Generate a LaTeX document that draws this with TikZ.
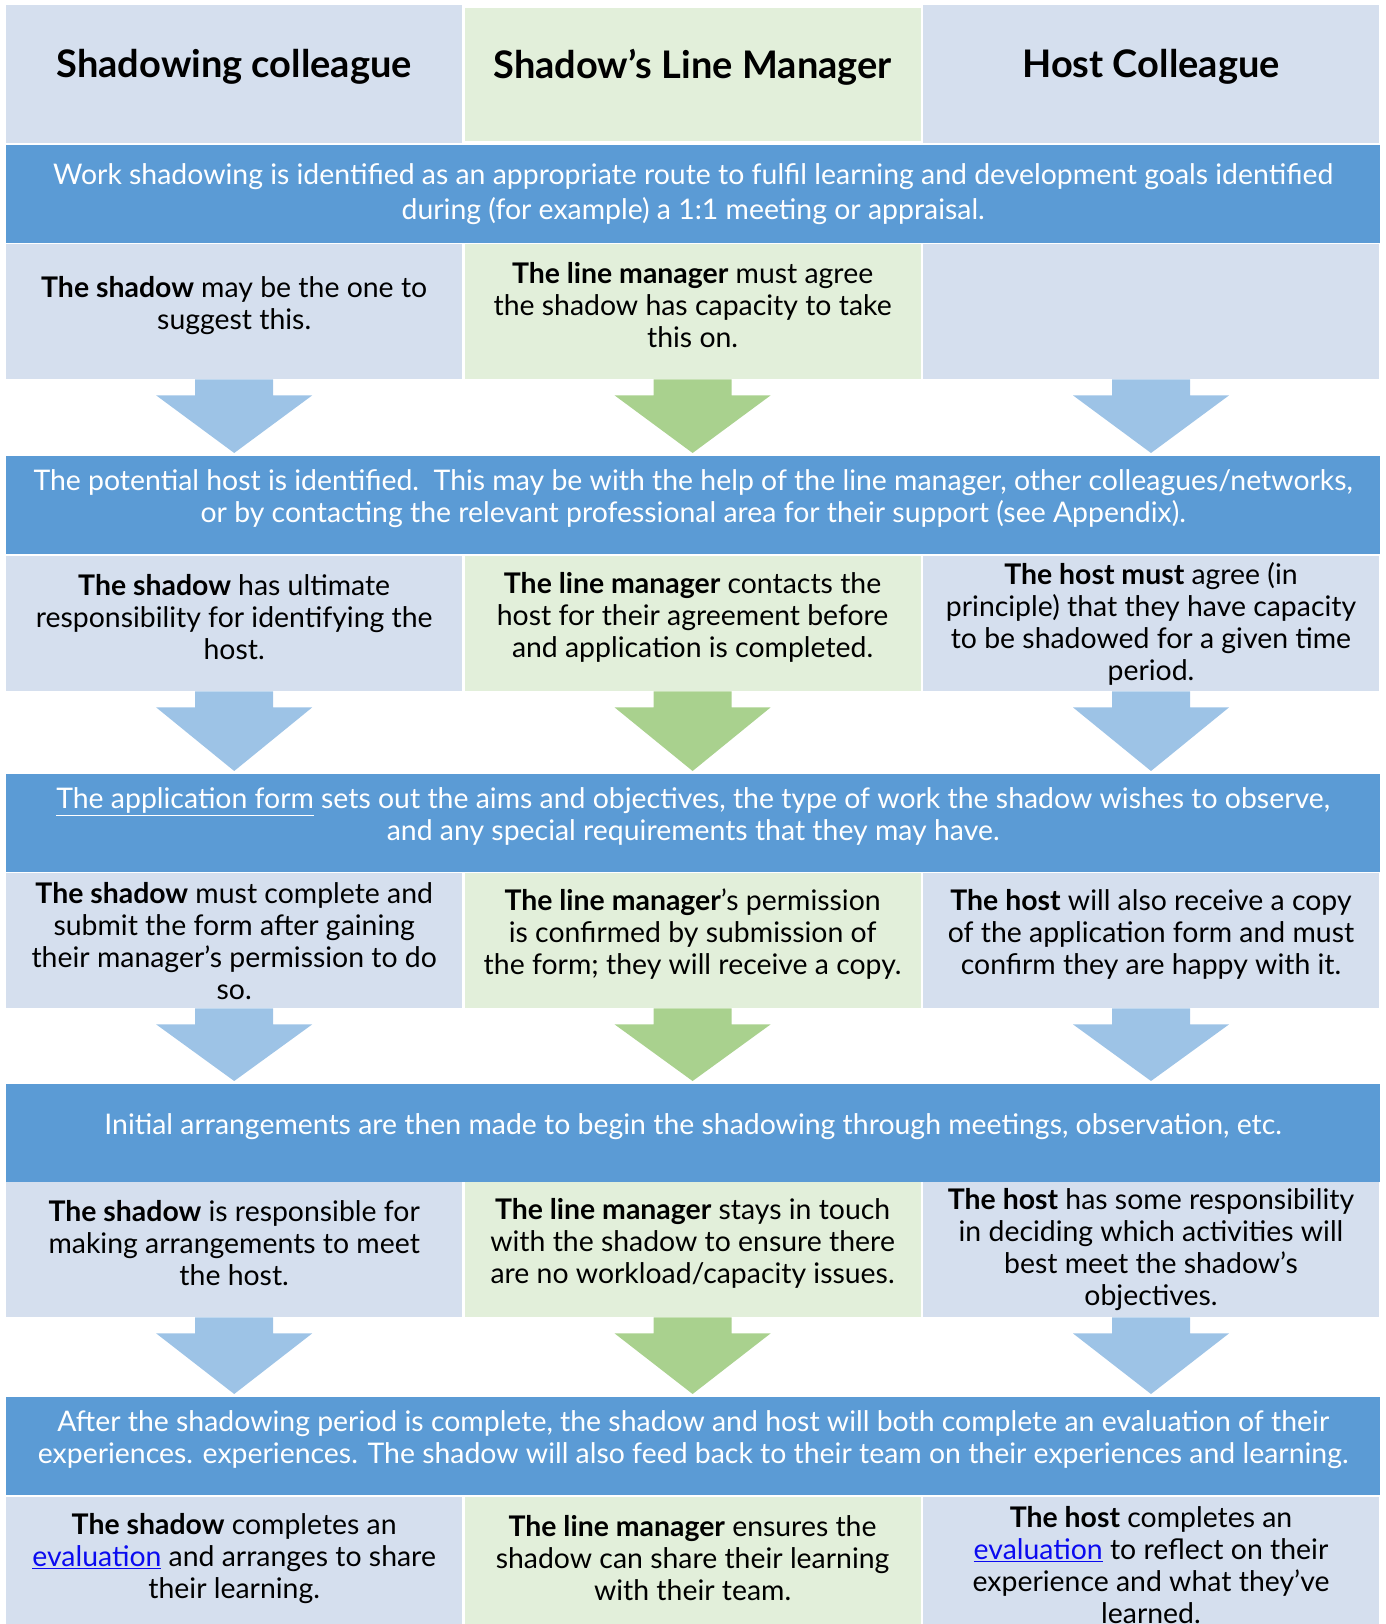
\documentclass[tikz,border=0pt]{standalone}
\usepackage{fontspec}
\setmainfont{Lato}
\usetikzlibrary{positioning,calc}

\definecolor{bannerblue}{HTML}{5B9BD5}
\definecolor{cellblue}{HTML}{D5DFEE}
\definecolor{cellgreen}{HTML}{E2EFDA}
\definecolor{arrowblue}{HTML}{9DC3E6}
\definecolor{arrowgreen}{HTML}{A9D18E}
\definecolor{linkblue}{HTML}{0A0AF0}

\newcommand{\bodyfont}{\fontsize{28.4}{32}\selectfont}
\newcommand{\headfont}{\fontsize{38}{42}\selectfont\bfseries}
\newcommand{\link}[1]{\textcolor{linkblue}{\underline{#1}}}

% block arrow from a cell down to the next banner
\newcommand{\blockdown}[3]{%
  \fill[#3] ($(#1.south)+(-39,0)$) -- ($(#1.south)+(39,0)$) -- ($(#1.south)+(39,16)$)
    -- ($(#1.south)+(78,16)$) -- ($(#1.south |- #2.north)+(0,-3)$)
    -- ($(#1.south)+(-78,16)$) -- ($(#1.south)+(-39,16)$) -- cycle;}

\begin{document}
\begin{tikzpicture}[
  x=1pt, y=-1pt,
  cell/.style={rectangle, inner sep=0, minimum width=456, minimum height=135, anchor=north west},
  bluecell/.style={cell, fill=cellblue},
  greencell/.style={cell, fill=cellgreen},
  banner/.style={rectangle, inner sep=0, fill=bannerblue, minimum width=1374, minimum height=98, anchor=north west},
  txt/.style={align=center, font=\bodyfont, inner sep=0},
  bantxt/.style={txt, text=white},
  headtxt/.style={align=center, font=\headfont, inner sep=0},
  lift/.style={yshift=6.5pt}
]
\useasboundingbox (0,0) rectangle (1385,1624);

% =======================================================
%                     HEADER ROW
% =======================================================
\node[bluecell, minimum height=138] (hsh) at (6,5) {};
\node[greencell, minimum height=133, right=2pt of hsh] (hlm) {};
\node[bluecell, minimum height=138, right=2pt of hlm] (hho) {};

\node[headtxt] (thsh) at ($(hsh.center)+(0,-7)$) {Shadowing colleague};
\node[headtxt] (thlm) at ($(hlm.center)+(0,-7)$) {Shadow’s Line Manager};
\node[headtxt] (thho) at ($(hho.center)+(0,-7)$) {Host Colleague};

% =======================================================
%                     BANNERS
% =======================================================
\node[banner] (b1) at (6,145) {};
\node[banner] (b2) at (6,456) {};
\node[banner] (b3) at (6,774) {};
\node[banner] (b4) at (6,1084) {};
\node[banner] (b5) at (6,1397) {};

\node[bantxt, font=\fontsize{28.4}{35}\selectfont] (tb1) at (b1.center)
  {Work shadowing is identified as an appropriate route to fulfil learning and development goals identified\\
   during (for example) a 1:1 meeting or appraisal.};
\node[bantxt, lift] (tb2) at (b2.center)
  {The potential host is identified.\ \ This may be with the help of the line manager, other colleagues/networks,\\
   or by contacting the relevant professional area for their support (see Appendix).};
\node[bantxt, lift] (tb3) at (b3.center)
  {\underline{The application form} sets out the aims and objectives, the type of work the shadow wishes to observe,\\
   and any special requirements that they may have.};
\node[bantxt, lift] (tb4) at (b4.center)
  {Initial arrangements are then made to begin the shadowing through meetings, observation, etc.};
\node[bantxt, lift] (tb5) at (b5.center)
  {After the shadowing period is complete, the shadow and host will both complete an evaluation of their\\
   experiences. experiences. The shadow will also feed back to their team on their experiences and learning.};

% =======================================================
%                     ROLE CELLS
% =======================================================
\node[bluecell] (sh1) at (6,244) {};
\node[greencell, right=2pt of sh1] (lm1) {};
\node[bluecell, right=2pt of lm1] (ho1) {};

\node[bluecell] (sh2) at (6,556) {};
\node[greencell, right=2pt of sh2] (lm2) {};
\node[bluecell, right=2pt of lm2] (ho2) {};

\node[bluecell] (sh3) at (6,873) {};
\node[greencell, right=2pt of sh3] (lm3) {};
\node[bluecell, right=2pt of lm3] (ho3) {};

\node[bluecell] (sh4) at (6,1182) {};
\node[greencell, right=2pt of sh4] (lm4) {};
\node[bluecell, right=2pt of lm4] (ho4) {};

\node[bluecell] (sh5) at (6,1497) {};
\node[greencell, right=2pt of sh5] (lm5) {};
\node[bluecell, right=2pt of lm5] (ho5) {};

% cell texts
\node[txt, lift] (tsh1) at (sh1.center) {\textbf{The shadow} may be the one to\\suggest this.};
\node[txt, lift] (tlm1) at (lm1.center) {\textbf{The line manager} must agree\\the shadow has capacity to take\\this on.};

\node[txt, lift] (tsh2) at (sh2.center) {\textbf{The shadow} has ultimate\\responsibility for identifying the\\host.};
\node[txt, lift] (tlm2) at (lm2.center) {\textbf{The line manager} contacts the\\host for their agreement before\\and application is completed.};
\node[txt] (tho2) at (ho2.center) {\textbf{The host must} agree (in\\principle) that they have capacity\\to be shadowed for a given time\\period.};

\node[txt] (tsh3) at (sh3.center) {\textbf{The shadow} must complete and\\submit the form after gaining\\their manager’s permission to do\\so.};
\node[txt, lift] (tlm3) at (lm3.center) {\textbf{The line manager}’s permission\\is confirmed by submission of\\the form; they will receive a copy.};
\node[txt, lift] (tho3) at (ho3.center) {\textbf{The host} will also receive a copy\\of the application form and must\\confirm they are happy with it.};

\node[txt, lift] (tsh4) at (sh4.center) {\textbf{The shadow} is responsible for\\making arrangements to meet\\the host.};
\node[txt, lift] (tlm4) at (lm4.center) {\textbf{The line manager} stays in touch\\with the shadow to ensure there\\are no workload/capacity issues.};
\node[txt] (tho4) at (ho4.center) {\textbf{The host} has some responsibility\\in deciding which activities will\\best meet the shadow’s\\objectives.};

\node[txt, lift] (tsh5) at (sh5.center) {\textbf{The shadow} completes an\\\link{evaluation} and arranges to share\\their learning.};
\node[txt, lift] (tlm5) at (lm5.center) {\textbf{The line manager} ensures the\\shadow can share their learning\\with their team.};
\node[txt] (tho5) at (ho5.center) {\textbf{The host} completes an\\\link{evaluation} to reflect on their\\experience and what they’ve\\learned.};

% =======================================================
%                     BLOCK ARROWS
% =======================================================
\blockdown{sh1}{b2}{arrowblue}
\blockdown{lm1}{b2}{arrowgreen}
\blockdown{ho1}{b2}{arrowblue}

\blockdown{sh2}{b3}{arrowblue}
\blockdown{lm2}{b3}{arrowgreen}
\blockdown{ho2}{b3}{arrowblue}

\blockdown{sh3}{b4}{arrowblue}
\blockdown{lm3}{b4}{arrowgreen}
\blockdown{ho3}{b4}{arrowblue}

\blockdown{sh4}{b5}{arrowblue}
\blockdown{lm4}{b5}{arrowgreen}
\blockdown{ho4}{b5}{arrowblue}

\end{tikzpicture}
\end{document}
